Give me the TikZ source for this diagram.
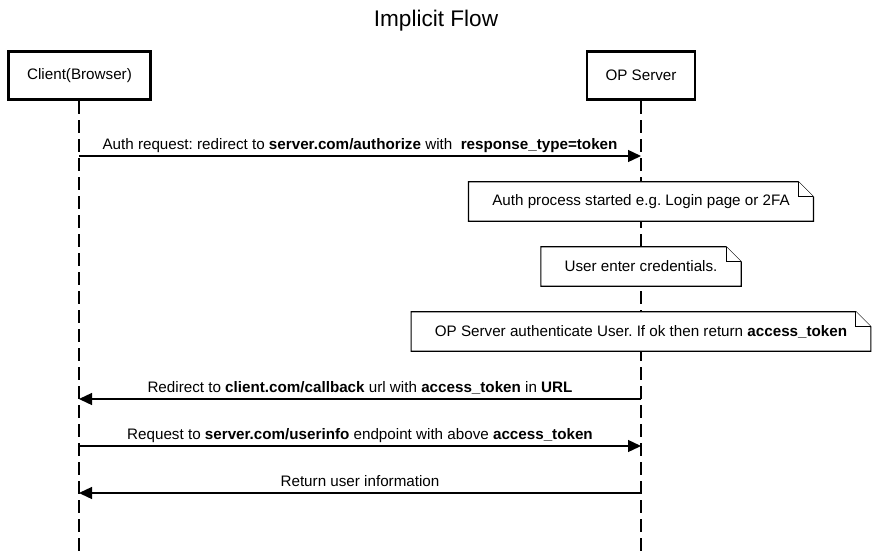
\documentclass[tikz,border=0pt]{standalone}
\usepackage{fontspec}
\setmainfont{Liberation Sans}
\usetikzlibrary{arrows.meta,positioning,backgrounds}
\frenchspacing

\begin{document}
\begin{tikzpicture}[
    x=1pt,y=-1pt,
    every node/.style={font=\fontsize{15.2}{18}\selectfont},
    actor/.style={draw,line width=2.8pt,minimum height=48.5pt,inner xsep=18.5pt},
    note/.style={minimum height=39pt,inner xsep=23.5pt},
    notebox/.style={draw,fill=white,line width=1.2pt},
    lifeline/.style={line width=1.8pt,dash pattern=on 13pt off 6pt},
    msg/.style={line width=1.3pt,-{Triangle[length=13pt,width=12pt]}},
    lbl/.style={pos=0.5,anchor=base,yshift=7pt}
]
\useasboundingbox (0,0) rectangle (880,554);
\node[font=\fontsize{22.6}{27}\selectfont,anchor=base] (title) at (436,26) {Implicit Flow};
\node[actor] (client) at (79.5,75.5) {Client(Browser)};
\node[actor] (server) at (641,75.5) {OP Server};
\coordinate (clientend) at (79,554);
\coordinate (serverend) at (641,554);
\node[note] (auth) at (641,201.5) {Auth process started e.g. Login page or 2FA};
\node[note] (cred) at (641,266.5) {User enter credentials.};
\node[note] (check) at (641,331.5) {OP Server authenticate User. If ok then return \textbf{access\_token}};
\begin{pgfonlayer}{background}
\draw[lifeline] (client.south -| clientend) -- (clientend);
\draw[lifeline] (server) -- (serverend);
\foreach \n in {auth,cred,check}{
  \draw[notebox] (\n.south west) -- (\n.north west) -- ([xshift=-15pt]\n.north east)
    -- ([yshift=-15pt]\n.north east) -- (\n.south east) -- cycle;
  \draw[notebox] ([xshift=-15pt]\n.north east) |- ([yshift=-15pt]\n.north east);
}
\end{pgfonlayer}
\foreach \i/\y in {1/156,2/399,3/446,4/493}{
  \coordinate (c\i) at (79,\y);
  \coordinate (s\i) at (641,\y);
}
\draw[msg] (c1) -- node[lbl]{Auth request: redirect to \textbf{server.com/authorize} with \ \textbf{response\_type=token}} (s1);
\draw[msg] (s2) -- node[lbl]{Redirect to \textbf{client.com/callback} url with \textbf{access\_token} in \textbf{URL}} (c2);
\draw[msg] (c3) -- node[lbl]{Request to \textbf{server.com/userinfo} endpoint with above \textbf{access\_token}} (s3);
\draw[msg] (s4) -- node[lbl]{Return user information} (c4);
\end{tikzpicture}
\end{document}
